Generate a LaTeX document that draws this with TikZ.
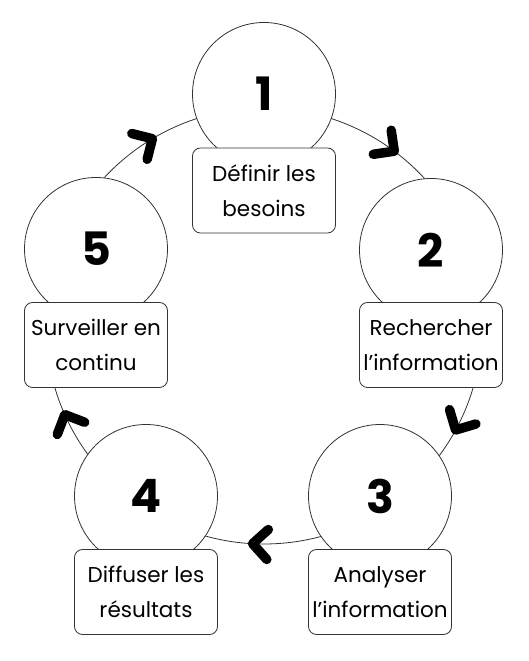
\documentclass[tikz,border=0pt]{standalone}
\usepackage{fontspec}
\setmainfont{Poppins}
\usetikzlibrary{calc}
\begin{document}
\begin{tikzpicture}[x=1pt,y=1pt,
  ringline/.style={line width=0.8pt, black!80},
  bubble/.style={circle, draw=black!80, line width=0.8pt, fill=white, minimum size=143pt, inner sep=0pt, font=\fontsize{46}{46}\selectfont\bfseries},
  label/.style={draw=black!80, line width=0.8pt, fill=white, rounded corners=8pt, minimum width=143pt, minimum height=85pt, inner sep=0pt, align=center, font=\fontsize{21.5}{35}\selectfont},
  chevron/.style={line width=9.5pt, line cap=round, line join=round},
  pics/chev/.style={code={\draw[chevron] (-15,15) -- (0,0) -- (-15,-15);}}
]
\useasboundingbox (0,0) rectangle (528,661);
\coordinate (ringc) at (264,335);
\draw[ringline] (ringc) circle[radius=218];
% arrows on ring
\pic[rotate=53.3-90] at ($(ringc)+(53.3:218)$) {chev};
\pic[rotate=-28.5-90] at ($(ringc)+(-28.5:218)$) {chev};
\pic[rotate=-93-90] at ($(ringc)+(-93:218)$) {chev};
\pic[rotate=-156-90] at ($(ringc)+(-156:218)$) {chev};
\pic[rotate=120.8-90] at ($(ringc)+(120.8:218)$) {chev};
% steps
\node[bubble] (c1) at (264,567) {1};
\node[label] (b1) at (264,470.5) {Définir les\\besoins};
\node[bubble] (c2) at (431,411) {2};
\node[label] (b2) at (431,316) {Rechercher\\l’information};
\node[bubble] (c5) at (96,412) {5};
\node[label] (b5) at (96,316) {Surveiller en\\continu};
\node[bubble] (c3) at (380,165) {3};
\node[label] (b3) at (380,69) {Analyser\\l’information};
\node[bubble] (c4) at (146,165) {4};
\node[label] (b4) at (146,69) {Diffuser les\\résultats};
\end{tikzpicture}
\end{document}
